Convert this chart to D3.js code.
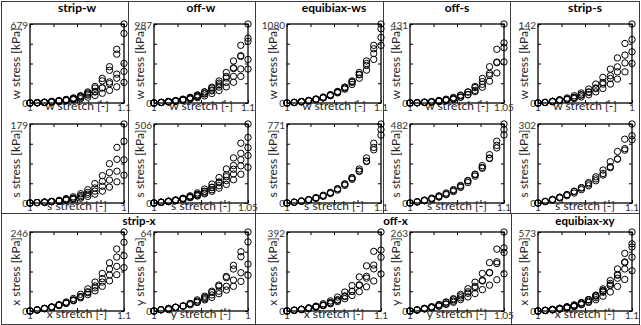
<!DOCTYPE html>
<html>
<head>
<meta charset="utf-8">
<script src="https://cdn.jsdelivr.net/npm/d3@7/dist/d3.min.js"></script>
<style>
  body { margin: 0; background: #fff; }
  svg { display: block; font-family: Lato, "Open Sans", sans-serif; }
</style>
</head>
<body>
<div id="chart"></div>
<script>
// stretch grids (shared by all curves of a plot)
const stretch10 = [1, 1.0077, 1.0154, 1.0231, 1.0308, 1.0385, 1.0462, 1.0538, 1.0615, 1.0692, 1.0769, 1.0846, 1.0923, 1.1];
const stretch05 = [1, 1.0038, 1.0077, 1.0115, 1.0154, 1.0192, 1.0231, 1.0269, 1.0308, 1.0346, 1.0385, 1.0423, 1.0462, 1.05];
const stretch02 = [1, 1.0015, 1.0031, 1.0046, 1.0062, 1.0077, 1.0092, 1.0108, 1.0123, 1.0138, 1.0154, 1.0169, 1.0185, 1.02];

// stress curves [kPa], one array per loading curve
const stripW_w = [
  [0, 2, 5, 10, 17, 27, 41, 63, 95, 142, 211, 312, 461, 679],
  [0, 2, 5, 9, 15, 24, 37, 57, 86, 128, 190, 281, 420, 598],
  [0, 2, 5, 10, 15, 23, 34, 48, 68, 95, 131, 181, 248, 340],
  [0, 4, 8, 14, 22, 31, 43, 57, 76, 100, 129, 166, 213, 272],
  [0, 2, 5, 9, 14, 20, 28, 37, 50, 65, 84, 108, 139, 177]
];
const offW_w = [
  [0, 7, 16, 28, 44, 67, 99, 140, 197, 275, 381, 525, 721, 987],
  [0, 6, 13, 23, 36, 55, 81, 115, 162, 226, 312, 430, 591, 809],
  [0, 8, 18, 31, 48, 70, 99, 136, 185, 248, 331, 440, 582, 770],
  [0, 8, 17, 28, 43, 62, 85, 115, 152, 199, 257, 332, 425, 543],
  [0, 6, 13, 22, 34, 48, 67, 89, 119, 155, 201, 259, 332, 424]
];
const equiWS_w = [
  [0, 8, 17, 30, 49, 73, 108, 153, 216, 301, 417, 575, 788, 1080],
  [0, 7, 16, 28, 46, 69, 102, 144, 203, 283, 392, 540, 741, 1015],
  [0, 9, 21, 36, 56, 82, 115, 158, 215, 289, 385, 512, 677, 896],
  [0, 8, 18, 32, 49, 72, 101, 139, 189, 254, 339, 450, 596, 788]
];
const offS_w = [
  [0, 1, 3, 6, 11, 17, 26, 40, 60, 90, 134, 198, 293, 431],
  [0, 1, 3, 5, 8, 13, 20, 31, 46, 69, 102, 151, 223, 328],
  [0, 2, 5, 8, 14, 21, 30, 43, 60, 84, 117, 161, 220, 302],
  [0, 2, 4, 6, 10, 15, 22, 32, 45, 62, 86, 119, 164, 224]
];
const stripS_w = [
  [0, 1, 3, 6, 9, 13, 18, 25, 34, 46, 61, 81, 107, 142],
  [0, 1, 3, 5, 7, 10, 15, 20, 27, 37, 49, 65, 86, 114],
  [0, 1, 3, 5, 7, 10, 14, 19, 26, 34, 44, 56, 72, 92],
  [0, 1, 2, 4, 6, 8, 11, 15, 20, 26, 34, 43, 56, 71]
];
const stripW_s = [
  [0, 1, 2, 4, 6, 10, 14, 21, 30, 44, 62, 89, 126, 179],
  [0, 1, 2, 3, 5, 8, 11, 17, 24, 34, 49, 69, 99, 140],
  [0, 1, 2, 3, 4, 7, 10, 14, 20, 27, 38, 52, 72, 98],
  [0, 1, 1, 3, 4, 6, 8, 11, 15, 20, 27, 36, 48, 63]
];
const offW_s = [
  [0, 5, 12, 20, 31, 46, 65, 89, 121, 163, 218, 289, 383, 506],
  [0, 4, 10, 17, 26, 38, 54, 74, 101, 135, 181, 240, 318, 420],
  [0, 5, 11, 18, 28, 40, 56, 75, 99, 130, 168, 216, 277, 354],
  [0, 4, 9, 16, 24, 35, 48, 64, 85, 111, 144, 186, 238, 304],
  [0, 5, 10, 16, 24, 34, 45, 59, 75, 95, 119, 149, 184, 228]
];
const equiWS_s = [
  [0, 8, 18, 31, 48, 70, 99, 136, 185, 248, 332, 440, 583, 771],
  [0, 7, 16, 29, 44, 65, 92, 126, 172, 231, 308, 409, 542, 717],
  [0, 9, 21, 34, 53, 76, 104, 140, 186, 243, 314, 405, 519, 663]
];
const offS_s = [
  [0, 7, 15, 25, 39, 55, 76, 102, 135, 176, 228, 295, 377, 482],
  [0, 6, 14, 23, 36, 51, 70, 95, 125, 164, 212, 274, 351, 448],
  [0, 8, 18, 30, 44, 61, 82, 107, 137, 173, 217, 271, 336, 415]
];
const stripS_s = [
  [0, 6, 13, 22, 32, 45, 59, 78, 100, 126, 158, 197, 244, 302],
  [0, 5, 11, 19, 28, 38, 51, 66, 85, 107, 135, 168, 208, 257],
  [0, 6, 14, 22, 32, 44, 57, 73, 92, 113, 139, 168, 202, 242]
];
const stripX_x = [
  [0, 3, 8, 13, 20, 28, 39, 52, 69, 90, 117, 150, 193, 246],
  [0, 3, 7, 11, 17, 24, 34, 45, 60, 78, 101, 131, 168, 214],
  [0, 3, 8, 12, 18, 25, 34, 44, 57, 72, 90, 112, 139, 172],
  [0, 4, 8, 12, 18, 24, 32, 41, 51, 63, 77, 94, 113, 135]
];
const stripX_y = [
  [0, 1, 1, 3, 4, 6, 8, 11, 15, 21, 28, 37, 48, 64],
  [0, 1, 2, 3, 4, 6, 9, 12, 16, 20, 27, 34, 44, 56],
  [0, 1, 2, 3, 4, 6, 7, 10, 13, 16, 20, 25, 31, 38],
  [0, 1, 2, 3, 4, 5, 7, 9, 11, 14, 17, 20, 24, 29]
];
const offX_x = [
  [0, 4, 9, 16, 24, 36, 50, 69, 94, 126, 169, 224, 296, 392],
  [0, 3, 7, 12, 19, 27, 39, 53, 72, 97, 130, 172, 228, 302],
  [0, 4, 8, 14, 21, 30, 42, 56, 75, 98, 127, 163, 209, 267],
  [0, 4, 8, 13, 20, 27, 36, 47, 61, 77, 96, 120, 149, 184]
];
const offX_y = [
  [0, 4, 8, 14, 21, 30, 41, 55, 74, 96, 125, 161, 206, 263],
  [0, 3, 7, 11, 17, 24, 33, 44, 59, 77, 100, 128, 164, 210],
  [0, 4, 9, 14, 21, 29, 38, 50, 64, 82, 102, 127, 158, 195],
  [0, 3, 7, 11, 16, 22, 29, 38, 47, 58, 71, 86, 104, 124]
];
const equiXY_x = [
  [0, 4, 9, 16, 26, 39, 57, 81, 115, 160, 221, 305, 418, 573],
  [0, 3, 8, 14, 22, 33, 49, 69, 97, 136, 188, 259, 356, 487],
  [0, 5, 11, 19, 29, 42, 59, 82, 111, 149, 200, 265, 351, 464],
  [0, 5, 12, 20, 31, 44, 61, 82, 109, 143, 185, 238, 305, 390],
  [0, 4, 9, 15, 23, 33, 46, 62, 82, 107, 138, 178, 229, 292]
];

// panel titles and axis texts
const topTitles = ['strip-w', 'off-w', 'equibiax-ws', 'off-s', 'strip-s'];
const bottomTitles = ['strip-x', 'off-x', 'equibiax-xy'];
const yMaxLabels = ['679', '987', '1080', '431', '142', '179', '506', '771', '482', '302', '246', '64', '392', '263', '573'];
const xMaxLabels = ['1.1', '1.1', '1.1', '1.05', '1', '1', '1.05', '1.1', '1.1', '1.1', '1.1', '1', '1.1', '1.05', '1.1'];
const xNames = ['w stretch [-]', 'w stretch [-]', 'w stretch [-]', 'w stretch [-]', 'w stretch [-]',
  's stretch [-]', 's stretch [-]', 's stretch [-]', 's stretch [-]', 's stretch [-]',
  'x stretch [-]', 'y stretch [-]', 'x stretch [-]', 'y stretch [-]', 'x stretch [-]'];
const yNames = ['w stress [kPa]', 'w stress [kPa]', 'w stress [kPa]', 'w stress [kPa]', 'w stress [kPa]',
  's stress [kPa]', 's stress [kPa]', 's stress [kPa]', 's stress [kPa]', 's stress [kPa]',
  'x stress [kPa]', 'y stress [kPa]', 'x stress [kPa]', 'y stress [kPa]', 'x stress [kPa]'];

const plotData = [stripW_w, offW_w, equiWS_w, offS_w, stripS_w,
  stripW_s, offW_s, equiWS_s, offS_s, stripS_s,
  stripX_x, stripX_y, offX_x, offX_y, equiXY_x];
const plotStretch = [stretch10, stretch10, stretch10, stretch05, stretch02,
  stretch02, stretch05, stretch10, stretch10, stretch10,
  stretch10, stretch02, stretch10, stretch05, stretch10];

const W = 641, H = 325;
const colLeft = [30, 154, 287, 410, 538];
const rowTop = [24, 124, 232];
const pw = 94, ph = 79;

const svg = d3.select('#chart').append('svg')
  .attr('width', W).attr('height', H);

// panel borders
const panelStroke = '#3c3c3c';
const panels = [
  [1, 1, 127, 212], [128, 1, 127, 212], [255, 1, 128, 212], [383, 1, 127, 212], [510, 1, 129, 212],
  [1, 213, 254, 111], [255, 213, 256, 111], [511, 213, 128, 111]
];
svg.selectAll('.panel').data(panels).enter().append('rect')
  .attr('x', d => d[0] + 0.5).attr('y', d => d[1] + 0.5)
  .attr('width', d => d[2]).attr('height', d => d[3])
  .attr('fill', 'none').attr('stroke', panelStroke).attr('stroke-width', 1);

// titles
svg.selectAll('.ttl-top').data(topTitles).enter().append('text')
  .attr('x', (d, i) => colLeft[i] + pw / 2)
  .attr('y', 12)
  .attr('text-anchor', 'middle')
  .style('font-weight', 'bold').style('font-size', '12px')
  .text(d => d);

const bottomCenters = [(colLeft[0] + colLeft[1] + pw) / 2, (colLeft[2] + colLeft[3] + pw) / 2, colLeft[4] + pw / 2];
svg.selectAll('.ttl-bot').data(bottomTitles).enter().append('text')
  .attr('x', (d, i) => bottomCenters[i])
  .attr('y', 224.5)
  .attr('text-anchor', 'middle')
  .style('font-weight', 'bold').style('font-size', '11.5px')
  .text(d => d);

plotData.forEach((curves, i) => {
  const row = Math.floor(i / 5), col = i % 5;
  const stretch = plotStretch[i];
  const g = svg.append('g')
    .attr('transform', `translate(${colLeft[col]},${rowTop[row]})`);

  const xMin = d3.min(stretch), xMax = d3.max(stretch);
  const yMax = d3.max(curves, c => d3.max(c));
  const x = d3.scaleLinear().domain([xMin, xMax]).range([0, pw]);
  const y = d3.scaleLinear().domain([0, yMax]).range([ph, 0]);

  const yTicks = d3.range(5).map(k => yMax * k / 4);
  const xTicks = d3.range(5).map(k => xMin + (xMax - xMin) * k / 4);

  // inward ticks on all four sides
  const tickStyle = sel => {
    sel.select('.domain').remove();
    sel.selectAll('line').attr('stroke', '#000');
    sel.selectAll('text').remove();
  };
  g.append('g').call(d3.axisLeft(y).tickValues(yTicks).tickSize(-3)).call(tickStyle);
  g.append('g').attr('transform', `translate(${pw},0)`)
    .call(d3.axisRight(y).tickValues(yTicks).tickSize(-3)).call(tickStyle);
  g.append('g').attr('transform', `translate(0,${ph})`)
    .call(d3.axisBottom(x).tickValues(xTicks).tickSize(-3)).call(tickStyle);
  g.append('g')
    .call(d3.axisTop(x).tickValues(xTicks).tickSize(-3)).call(tickStyle);

  // frame
  g.append('rect')
    .attr('width', pw).attr('height', ph)
    .attr('fill', 'none').attr('stroke', '#000').attr('stroke-width', 1.3);

  // tick labels: only min and max
  const tickFont = sel => sel.style('font-size', '10px').style('fill', '#333');
  g.append('text').attr('x', -2).attr('y', y(yMax) + 5)
    .attr('text-anchor', 'end').call(tickFont).text(yMaxLabels[i]);
  g.append('text').attr('x', -2).attr('y', y(0) + 4)
    .attr('text-anchor', 'end').call(tickFont).text('0');
  g.append('text').attr('x', x(xMin)).attr('y', ph + 8)
    .attr('text-anchor', 'middle').call(tickFont).text('1');
  g.append('text').attr('x', x(xMax)).attr('y', ph + 8)
    .attr('text-anchor', 'middle').call(tickFont).text(xMaxLabels[i]);

  // axis names
  g.append('text').attr('x', pw / 2).attr('y', ph + 7)
    .attr('text-anchor', 'middle').style('font-size', '12px').style('fill', '#222')
    .text(xNames[i]);
  g.append('text')
    .attr('transform', `translate(-10,${ph / 2}) rotate(-90)`)
    .attr('text-anchor', 'middle').style('font-size', '12px').style('fill', '#222')
    .text(yNames[i]);

  // data points
  curves.forEach(c => {
    g.selectAll(null).data(c).enter().append('circle')
      .attr('cx', (d, k) => x(stretch[k]))
      .attr('cy', d => y(d))
      .attr('r', 3.2)
      .attr('fill', 'none')
      .attr('stroke', '#000')
      .attr('stroke-width', 1);
  });
});
</script>
</body>
</html>
